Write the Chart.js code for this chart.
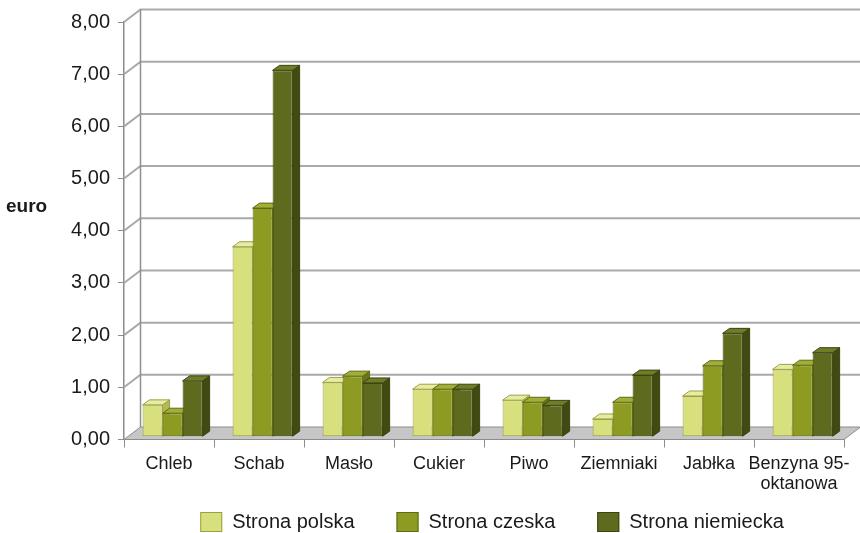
<!DOCTYPE html>
<html>
<head>
<meta charset="utf-8">
<title>Ceny produktów</title>
<script src="https://cdn.jsdelivr.net/npm/chart.js@4.4.1/dist/chart.umd.min.js"></script>
<style>
  html, body { margin: 0; padding: 0; background: #fff; }
  #wrap { width: 860px; height: 533px; }
</style>
</head>
<body>
<div id="wrap"><canvas id="priceChart"></canvas></div>
<script>
// categories and prices (euro)
const categories = ['Chleb', 'Schab', 'Masło', 'Cukier', 'Piwo', 'Ziemniaki', 'Jabłka', ['Benzyna 95-', 'oktanowa']];
const seriesNames = ['Strona polska', 'Strona czeska', 'Strona niemiecka'];
const polska = [0.61, 3.64, 1.04, 0.91, 0.70, 0.34, 0.78, 1.29];
const czeska = [0.45, 4.38, 1.16, 0.91, 0.66, 0.66, 1.36, 1.37];
const niemiecka = [1.07, 7.02, 1.03, 0.91, 0.60, 1.18, 1.98, 1.61];
const yMax = 8;
const yStep = 1;

// face colours per series: front, top, side, outline
const fronts = ['#d8df7d', '#8d9b22', '#5e6a1d'];
const tops = ['#e7eba4', '#a2ae35', '#707c27'];
const sides = ['#b3b957', '#6a7516', '#424a12'];
const outlines = ['#9ba140', '#5f6a14', '#3c4410'];

const FONT = "'Liberation Sans', Arial, Helvetica, sans-serif";

// depth of the floor/walls and of each column
const WALL_DX = 16.5, WALL_DY = -12.5;
const BAR_SHIFT_X = 3.6, BAR_SHIFT_Y = -2.8;
const BAR_DX = 7, BAR_DY = -5;

function poly(ctx, pts, fill, stroke) {
    ctx.beginPath();
    ctx.moveTo(pts[0][0], pts[0][1]);
    for (let i = 1; i < pts.length; i++) ctx.lineTo(pts[i][0], pts[i][1]);
    ctx.closePath();
    ctx.fillStyle = fill;
    ctx.fill();
    if (stroke) {
        ctx.strokeStyle = stroke;
        ctx.lineWidth = 1;
        ctx.stroke();
    }
}

// walls, floor and the top/side faces of the columns
const box3d = {
    id: 'box3d',
    beforeDatasetsDraw(chart) {
        const { ctx, chartArea: a, scales: { y } } = chart;

        ctx.save();
        // floor
        poly(ctx, [
            [a.left, a.bottom], [a.right, a.bottom],
            [a.right + WALL_DX, a.bottom + WALL_DY], [a.left + WALL_DX, a.bottom + WALL_DY]
        ], '#c6c6c6', '#8c8c8c');

        // gridlines on side and back wall
        ctx.strokeStyle = '#a9a9a9';
        ctx.lineWidth = 2;
        y.ticks.forEach(t => {
            if (t.value === 0) return;
            const py = y.getPixelForValue(t.value);
            ctx.beginPath();
            ctx.moveTo(a.left, py);
            ctx.lineTo(a.left + WALL_DX, py + WALL_DY);
            ctx.lineTo(a.right + WALL_DX, py + WALL_DY);
            ctx.stroke();
        });
        ctx.lineWidth = 1.5;
        ctx.strokeStyle = '#8f8f8f';
        ctx.beginPath();
        ctx.moveTo(a.left + WALL_DX, a.top + WALL_DY);
        ctx.lineTo(a.left + WALL_DX, a.bottom + WALL_DY);
        ctx.stroke();
        ctx.restore();

        // columns stand a little behind the front edge
        ctx.save();
        ctx.translate(BAR_SHIFT_X, BAR_SHIFT_Y);
        chart.data.datasets.forEach((ds, i) => {
            const meta = chart.getDatasetMeta(i);
            meta.data.forEach(el => {
                const p = el.getProps(['x', 'y', 'base', 'width'], true);
                const l = p.x - p.width / 2, r = p.x + p.width / 2;
                poly(ctx, [
                    [r, p.y], [r + BAR_DX, p.y + BAR_DY],
                    [r + BAR_DX, p.base + BAR_DY], [r, p.base]
                ], sides[i], outlines[i]);
                poly(ctx, [
                    [l, p.y], [l + BAR_DX, p.y + BAR_DY],
                    [r + BAR_DX, p.y + BAR_DY], [r, p.y]
                ], tops[i], outlines[i]);
            });
        });
    },
    afterDatasetsDraw(chart) {
        chart.ctx.restore();
    },
    afterDraw(chart) {
        const { ctx, chartArea: a } = chart;
        ctx.save();
        ctx.fillStyle = '#1a1a1a';
        ctx.textBaseline = 'middle';
        ctx.textAlign = 'left';

        // axis caption
        ctx.font = 'bold 19px ' + FONT;
        ctx.fillText('euro', 6, 207);

        // legend row under the axis labels
        const boxW = 22, boxH = 20, textGap = 10, itemGap = 42, rowY = 522;
        ctx.font = '20px ' + FONT;
        const items = chart.data.datasets.map((ds, i) => ({
            text: ds.label,
            fill: fronts[i],
            stroke: outlines[i],
            w: boxW + textGap + ctx.measureText(ds.label).width
        }));
        const total = items.reduce((s, it) => s + it.w, 0) + itemGap * (items.length - 1);
        let x = (a.left + a.right) / 2 + 8 - total / 2;
        items.forEach(it => {
            ctx.fillStyle = it.fill;
            ctx.fillRect(x, rowY - boxH / 2, boxW, boxH);
            ctx.strokeStyle = it.stroke;
            ctx.lineWidth = 1;
            ctx.strokeRect(x + 0.5, rowY - boxH / 2 + 0.5, boxW - 1, boxH - 1);
            ctx.fillStyle = '#1a1a1a';
            ctx.fillText(it.text, x + boxW + textGap, rowY);
            x += it.w + itemGap;
        });
        ctx.restore();
    }
};

const values = [polska, czeska, niemiecka];

new Chart(document.getElementById('priceChart'), {
    type: 'bar',
    data: {
        labels: categories,
        datasets: seriesNames.map((name, i) => ({
            label: name,
            data: values[i],
            backgroundColor: fronts[i],
            borderColor: outlines[i],
            borderWidth: 1,
            borderSkipped: false,
            categoryPercentage: 0.667,
            barPercentage: 1.0,
            clip: false
        }))
    },
    options: {
        responsive: true,
        maintainAspectRatio: false,
        animation: false,
        layout: {
            padding: { top: 22, right: 16, bottom: 38.5, left: 0 }
        },
        scales: {
            x: {
                grid: {
                    offset: true,
                    drawOnChartArea: false,
                    tickLength: 8,
                    color: '#8c8c8c'
                },
                border: { color: '#8c8c8c' },
                ticks: {
                    color: '#1a1a1a',
                    padding: 7,
                    maxRotation: 0,
                    autoSkip: false,
                    font: { family: FONT, size: 18, lineHeight: 1.1 }
                },
                afterFit(scale) { scale.height = 55; }
            },
            y: {
                min: 0,
                max: yMax,
                ticks: {
                    stepSize: yStep,
                    color: '#1a1a1a',
                    padding: 8,
                    font: { family: FONT, size: 20 },
                    callback: v => v.toFixed(2).replace('.', ',')
                },
                grid: {
                    drawOnChartArea: false,
                    tickLength: 6,
                    color: '#8c8c8c'
                },
                border: { color: '#8c8c8c', width: 1.5 },
                afterFit(scale) { scale.width = 124; }
            }
        },
        plugins: {
            legend: { display: false },
            tooltip: { enabled: false }
        }
    },
    plugins: [box3d]
});
</script>
</body>
</html>
